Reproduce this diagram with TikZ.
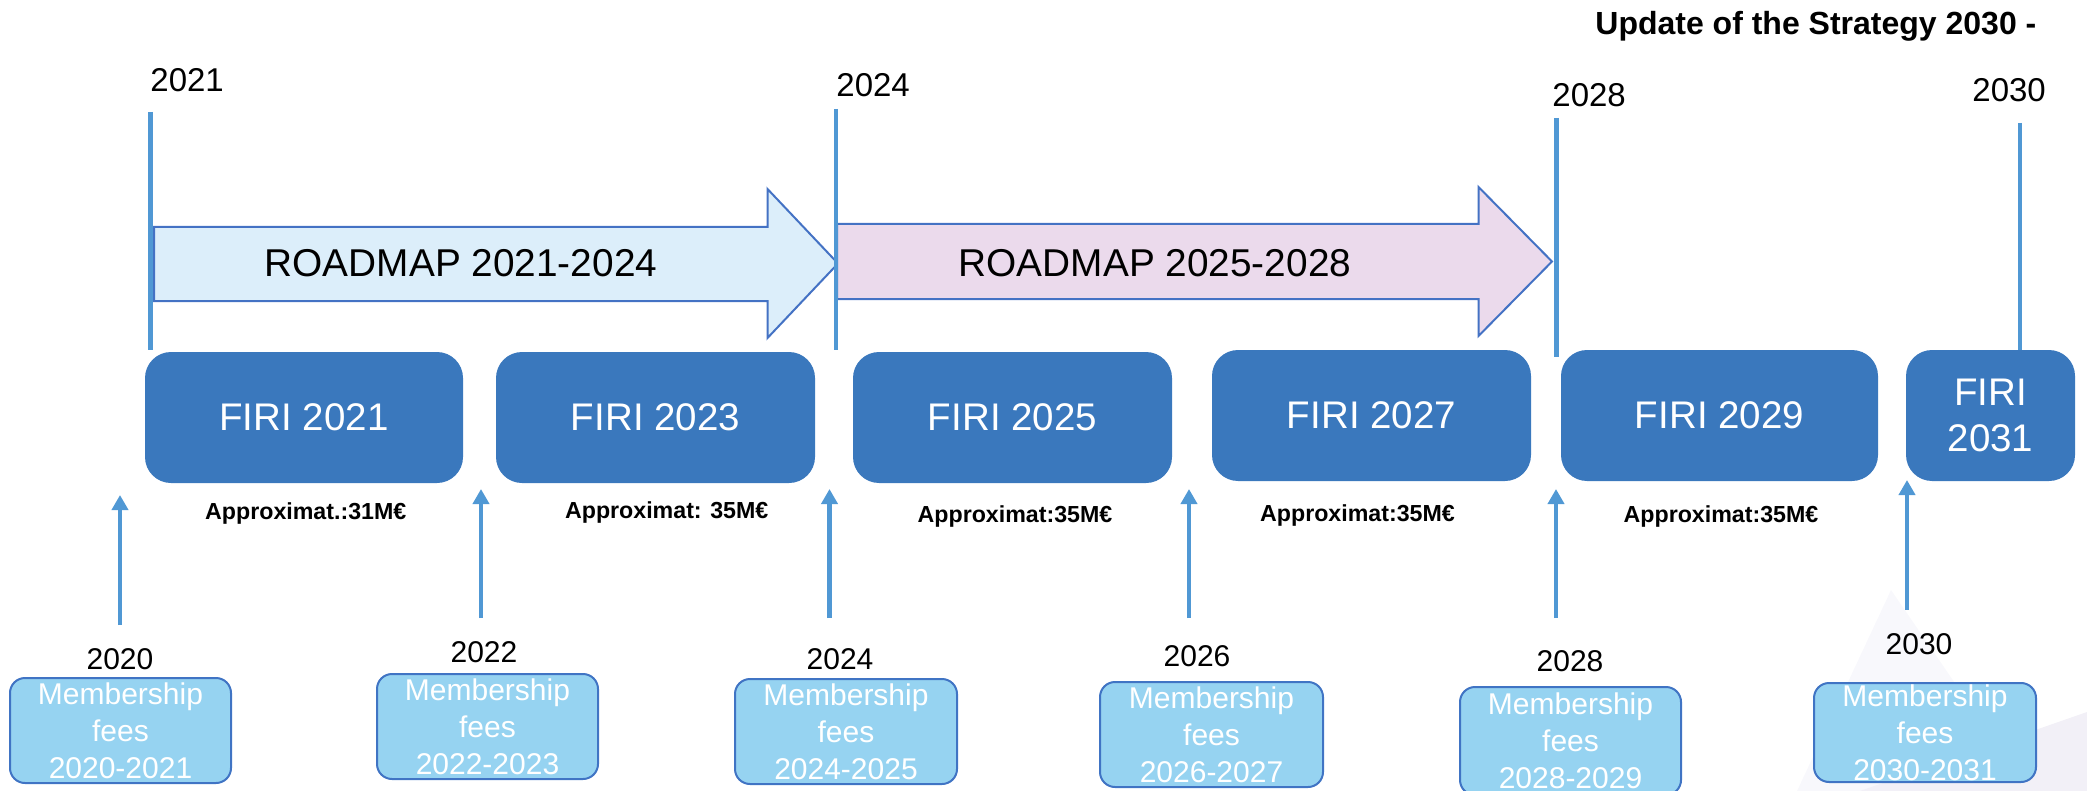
\documentclass[tikz,border=0pt]{standalone}
\usepackage{fontspec}
\setmainfont{Liberation Sans}
\usetikzlibrary{arrows.meta}
\definecolor{vline}{RGB}{80,152,212}
\definecolor{firi}{RGB}{58,120,189}
\definecolor{memfill}{RGB}{150,211,241}
\definecolor{memdraw}{RGB}{64,116,196}
\definecolor{arrline}{RGB}{68,114,196}
\definecolor{rmfillA}{RGB}{220,238,250}
\definecolor{rmfillB}{RGB}{235,218,236}
\definecolor{bgA}{RGB}{248,248,252}
\definecolor{bgB}{RGB}{242,240,247}
\begin{document}
\begin{tikzpicture}[x=0.5pt,y=-0.5pt,
  vbar/.style={draw=vline,line width=2.4pt},
  uparr/.style={draw=vline,line width=2.4pt,-{Triangle[width=8pt,length=7.5pt]}},
  rmshape/.style={draw=arrline,line width=1pt,line join=miter},
  rmtext/.style={inner sep=0pt,anchor=base,font=\fontsize{19.4}{23}\selectfont},
  topyear/.style={inner sep=0pt,anchor=base west,font=\fontsize{16.5}{20}\selectfont},
  botyear/.style={inner sep=0pt,anchor=base,font=\fontsize{15}{18}\selectfont},
  approx/.style={inner sep=0pt,anchor=base,font=\bfseries\fontsize{11.6}{14}\selectfont},
  firibox/.style={fill=firi,rounded corners=13pt,minimum width=#1,minimum height=65.5pt,
    inner sep=0pt,text=white,align=center,font=\fontsize{19.25}{22.75}\selectfont},
  memmbox/.style 2 args={fill=memfill,draw=memdraw,line width=1pt,rounded corners=7.5pt,
    minimum width=#1,minimum height=#2,inner sep=0pt,text=white,align=center,
    font=\fontsize{15}{18.5}\selectfont}
]
\useasboundingbox (0,0) rectangle (2087,791);
% faint background decoration
\fill[bgA] (1891,590) -- (1797,791) -- (2029,791) -- cycle;
\fill[bgB] (2087,712) -- (1860,791) -- (2087,791) -- cycle;

% title
\node[inner sep=0pt,anchor=base west,font=\bfseries\fontsize{16}{19}\selectfont] (upd) at (1595,35) {Update of the Strategy 2030 -};

% roadmap arrows
\draw[rmshape,fill=rmfillA] (154,227) -- (767.5,227) -- (767.5,189) -- (838,263.5) -- (767.5,338) -- (767.5,301) -- (154,301) -- cycle;
\draw[rmshape,fill=rmfillB] (837,224) -- (1478.5,224) -- (1478.5,187) -- (1552,261.5) -- (1478.5,336) -- (1478.5,299) -- (837,299) -- cycle;
\node[rmtext] (rm1) at (461,277) {ROADMAP 2021-2024};
\node[rmtext] (rm2) at (1155,277) {ROADMAP 2025-2028};

% top years and vertical bars
\node[topyear] (t2021) at (150,92) {2021};
\node[topyear] (t2024) at (836,97) {2024};
\node[topyear] (t2028) at (1552,107) {2028};
\node[topyear] (t2030) at (1972,102) {2030};
\coordinate (b1s) at (150.4,112); \coordinate (b1e) at (150.4,350);
\coordinate (b2s) at (836,109);   \coordinate (b2e) at (836,350);
\coordinate (b3s) at (1556.5,118); \coordinate (b3e) at (1556.5,357);
\coordinate (b4s) at (2020,123);  \coordinate (b4e) at (2020,351);
\draw[vbar] (b1s) -- (b1e);
\draw[vbar] (b2s) -- (b2e);
\draw[vbar] (b3s) -- (b3e);
\draw[vbar] (b4s) -- (b4e);

% FIRI boxes
\node[firibox=159pt] (f2021) at (304,417.5) {FIRI 2021};
\node[firibox=159.5pt] (f2023) at (655.5,417.5) {FIRI 2023};
\node[firibox=159.5pt] (f2025) at (1012.5,417.5) {FIRI 2025};
\node[firibox=159.5pt] (f2027) at (1371.5,415.5) {FIRI 2027};
\node[firibox=158.5pt] (f2029) at (1719.5,415.5) {FIRI 2029};
\node[firibox=84.5pt] (f2031) at (1990.5,415.5) {FIRI\\2031};

% amounts
\node[approx] (ap1) at (305.75,519.5) {Approximat.:31M€};
\node[approx] (ap2) at (666.7,518) {Approximat: 35M€};
\node[approx] (ap3) at (1015,522) {Approximat:35M€};
\node[approx] (ap4) at (1357.5,521) {Approximat:35M€};
\node[approx] (ap5) at (1721,522) {Approximat:35M€};

% bottom years
\node[botyear] (y2020) at (120,669) {2020};
\node[botyear] (y2022) at (484,662) {2022};
\node[botyear] (y2024) at (840,669) {2024};
\node[botyear] (y2026) at (1197,666) {2026};
\node[botyear] (y2028) at (1570,671) {2028};
\node[botyear] (y2030) at (1919,654) {2030};

% up arrows
\coordinate (a1s) at (120,625);  \coordinate (a1e) at (120,495);
\coordinate (a2s) at (481,618);  \coordinate (a2e) at (481,489);
\coordinate (a3s) at (829.5,618); \coordinate (a3e) at (829.5,489);
\coordinate (a4s) at (1189,618); \coordinate (a4e) at (1189,489);
\coordinate (a5s) at (1556,618); \coordinate (a5e) at (1556,489);
\coordinate (a6s) at (1907,610); \coordinate (a6e) at (1907,480);
\draw[uparr] (a1s) -- (a1e);
\draw[uparr] (a2s) -- (a2e);
\draw[uparr] (a3s) -- (a3e);
\draw[uparr] (a4s) -- (a4e);
\draw[uparr] (a5s) -- (a5e);
\draw[uparr] (a6s) -- (a6e);

% membership boxes
\node[memmbox={110.5pt}{52.5pt}] (m1) at (120.5,730.5) {Membership\\fees\\ 2020-2021};
\node[memmbox={110.5pt}{52.5pt}] (m2) at (487.5,726.5) {Membership\\fees\\ 2022-2023};
\node[memmbox={111pt}{52.5pt}] (m3) at (846,731.5) {Membership\\fees\\ 2024-2025};
\node[memmbox={111.5pt}{52.5pt}] (m4) at (1211.5,734.5) {Membership\\fees\\ 2026-2027};
\node[memmbox={110.5pt}{54pt}] (m5) at (1570.5,741) {Membership\\fees\\ 2028-2029};
\node[memmbox={111pt}{49.5pt}] (m6) at (1925,732.5) {Membership\\fees\\ 2030-2031};
\end{tikzpicture}
\end{document}
